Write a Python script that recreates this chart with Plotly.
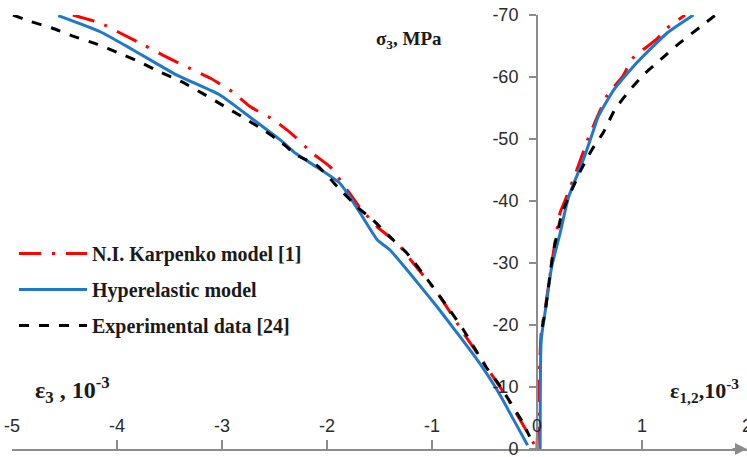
import plotly.graph_objects as go

# ---- data (strain in 10^-3, stress sigma3 in MPa) ----
karp_left_x = [-4.42, -4.16, -3.97, -3.75, -3.56, -3.32, -3.11, -2.90, -2.73, -2.51, -2.32, -2.14,
               -1.97, -1.69, -1.52, -1.33, -1.18, -0.95, -0.70, -0.48, -0.29, 0.0]
karp_left_y = [-70.0, -68.7, -67.1, -65.2, -63.5, -61.5, -59.8, -57.6, -55.2, -53.1, -50.6, -47.7,
               -45.5, -39.0, -35.8, -33.2, -30.0, -25.2, -18.7, -13.2, -8.4, 0.0]
karp_right_x = [0.0, 0.04, 0.08, 0.15, 0.22, 0.27, 0.39, 0.48, 0.57, 0.67, 0.82, 0.91, 1.14, 1.24, 1.41]
karp_right_y = [0.0, -18.7, -22.9, -31.0, -38.1, -40.2, -45.5, -49.8, -53.4, -57.1, -60.2, -63.0,
                -66.1, -67.9, -70.0]

hyper_left_x = [-4.56, -4.16, -3.85, -3.43, -3.02, -2.70, -2.42, -2.30, -2.10, -1.88, -1.78, -1.66,
                -1.52, -1.40, -1.18, -0.95, -0.76, -0.57, -0.38, -0.09]
hyper_left_y = [-69.9, -67.3, -64.4, -60.3, -57.1, -53.1, -49.5, -47.7, -45.5, -42.9, -40.6, -37.4,
                -33.7, -32.1, -27.7, -22.9, -18.7, -14.4, -9.5, -0.6]
hyper_right_x = [0.03, 0.04, 0.08, 0.14, 0.22, 0.30, 0.44, 0.53, 0.58, 0.73, 0.95, 1.24, 1.49]
hyper_right_y = [0.0, -17.6, -22.4, -29.4, -34.8, -40.6, -46.6, -51.0, -53.5, -57.9, -62.3, -67.1, -70.0]

exp_left_x = [-4.99, -4.83, -4.62, -4.42, -4.19, -3.99, -3.78, -3.59, -3.38, -3.19, -3.00, -2.80,
              -2.61, -2.43, -2.29, -2.10, -1.90, -1.71, -1.56, -1.37, -1.24, -1.02, -0.83, -0.70,
              -0.48, -0.37, -0.14, -0.07]
exp_left_y = [-70.0, -69.0, -67.9, -66.6, -65.3, -63.9, -62.4, -60.8, -59.2, -57.4, -55.5, -53.5,
              -51.5, -49.4, -47.4, -45.8, -42.3, -39.0, -36.9, -33.7, -31.6, -26.8, -22.4, -19.2,
              -13.1, -10.6, -4.4, -2.0]
exp_right_x = [0.05, 0.08, 0.15, 0.24, 0.41, 0.52, 0.63, 0.74, 0.87, 1.01, 1.19, 1.36, 1.58, 1.70]
exp_right_y = [-19.7, -22.4, -31.3, -38.1, -44.7, -48.2, -51.0, -54.7, -57.6, -60.3, -63.0, -65.5,
               -68.4, -70.0]

series_names = ["N.I. Karpenko model [1]", "Hyperelastic model", "Experimental data [24]"]
x_ticks = [-5, -4, -3, -2, -1, 0, 1, 2]
y_ticks = [0, -10, -20, -30, -40, -50, -60, -70]

RED = "#ff0000"
BLUE = "#1f78c8"
BLACK = "#000000"
AXIS = "#8c8c8c"
TXT = "#1a1a1a"
SERIF = "Liberation Serif"
SANS = "Liberation Sans"

fig = go.Figure()

styles = [
    (series_names[0], RED, "22px,11px,3px,11px", karp_left_x, karp_left_y, karp_right_x, karp_right_y, "g1"),
    (series_names[1], BLUE, "solid", hyper_left_x, hyper_left_y, hyper_right_x, hyper_right_y, "g2"),
    (series_names[2], BLACK, "10px,10px", exp_left_x, exp_left_y, exp_right_x, exp_right_y, "g3"),
]
for name, color, dash, lx, ly, rx, ry, grp in styles:
    fig.add_trace(go.Scatter(x=lx, y=ly, mode="lines", name=name, legendgroup=grp,
                             line=dict(color=color, width=3, dash=dash, shape="spline", smoothing=0.5),
                             showlegend=True))
    fig.add_trace(go.Scatter(x=rx, y=ry, mode="lines", name=name, legendgroup=grp,
                             line=dict(color=color, width=3, dash=dash, shape="spline", smoothing=0.5),
                             showlegend=False))

# empty trace so the label-only overlay axis is drawn
fig.add_trace(go.Scatter(x=[], y=[], xaxis="x2", yaxis="y", showlegend=False, hoverinfo="skip"))

fig.update_layout(
    width=747, height=457,
    margin=dict(l=12, r=0, t=15, b=8, autoexpand=False),
    paper_bgcolor="white", plot_bgcolor="white",
    xaxis=dict(range=[-5, 2], tickvals=x_ticks, showticklabels=False, automargin=False,
               showgrid=False, zeroline=False, showline=True, linecolor=AXIS, linewidth=2,
               ticks="inside", ticklen=9, tickcolor=AXIS, tickwidth=1.5),
    xaxis2=dict(range=[-5, 2], overlaying="x", anchor="free", position=(449 - 413) / 434, side="bottom",
                tickvals=x_ticks, ticktext=[str(v) for v in x_ticks], ticklabeloverflow="allow",
                automargin=False,
                showgrid=False, zeroline=False, showline=False, ticks="",
                tickfont=dict(family=SANS, size=18, color="#2a2a2a")),
    yaxis=dict(range=[0, -70], tickvals=y_ticks, ticktext=[str(v) for v in y_ticks],
               anchor="free", position=5 / 7, side="left", ticklabeloverflow="allow", automargin=False,
               showgrid=False, zeroline=False, showline=True, linecolor=AXIS, linewidth=2,
               ticks="outside", ticklen=7, tickcolor=AXIS, tickwidth=1.5, ticklabelstandoff=7,
               tickfont=dict(family=SANS, size=18, color="#2a2a2a")),
    legend=dict(x=(14 - 12) / 735, y=(449 - 234) / 434, xanchor="left", yanchor="top",
                bgcolor="rgba(0,0,0,0)",
                font=dict(family=SERIF, size=20, color=TXT, weight="bold"),
                itemwidth=68, tracegroupgap=7, traceorder="grouped"),
    showlegend=True,
    annotations=[
        dict(text="σ<sub>3</sub>, MPa", xref="paper", yref="paper", x=(409 - 12) / 735, y=(449 - 40) / 434,
             xanchor="center", yanchor="middle", showarrow=False,
             font=dict(family=SERIF, size=19, color=TXT, weight="bold")),
        dict(text="ε<sub>3</sub> , 10<sup>-3</sup>", xref="paper", yref="paper", x=(72 - 12) / 735,
             y=(449 - 390) / 434, xanchor="center", yanchor="middle", showarrow=False,
             font=dict(family=SERIF, size=24, color=TXT, weight="bold")),
        dict(text="ε<sub>1,2</sub>,10<sup>-3</sup>", xref="paper", yref="paper", x=(704 - 12) / 735,
             y=(449 - 390) / 434, xanchor="center", yanchor="middle", showarrow=False,
             font=dict(family=SERIF, size=22, color=TXT, weight="bold")),
        dict(text="", x=2, y=0, xref="x", yref="y", ax=-16, ay=0, axref="pixel", ayref="pixel",
             showarrow=True, arrowhead=2, arrowsize=1.2, arrowwidth=2, arrowcolor=AXIS),
    ],
)

fig.write_html("out.html", config={"displayModeBar": False},
               post_script="document.body.style.margin='0';document.body.style.overflow='hidden';")
